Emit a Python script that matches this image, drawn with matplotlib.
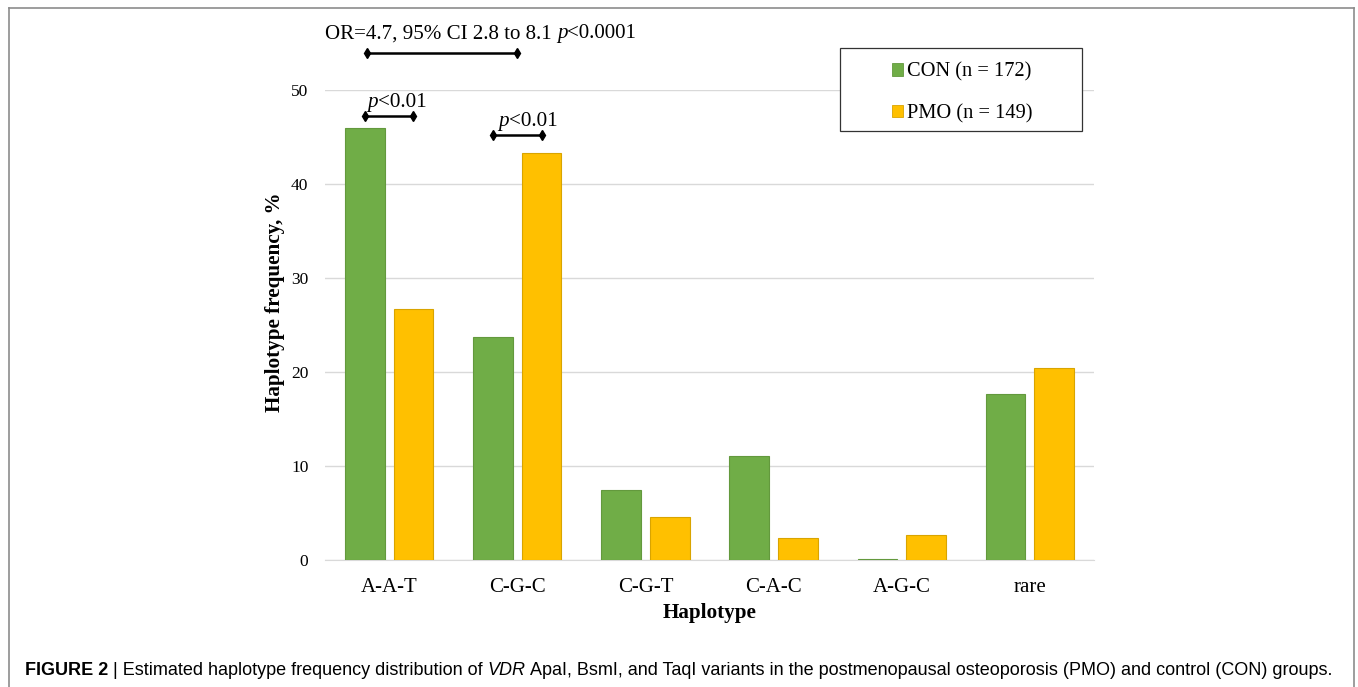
import numpy as np
import matplotlib
matplotlib.use("Agg")
import matplotlib.pyplot as plt
from matplotlib.patches import Rectangle, Patch
from matplotlib.lines import Line2D

# data
haplotypes = ["A-A-T", "C-G-C", "C-G-T", "C-A-C", "A-G-C", "rare"]
con_freq = [46.0, 23.7, 7.45, 11.1, 0.1, 17.7]
pmo_freq = [26.7, 43.3, 4.6, 2.3, 2.65, 20.4]
con_label = "CON (n = 172)"
pmo_label = "PMO (n = 149)"

CON_COLOR = "#70AD47"
PMO_COLOR = "#FFC000"
SERIF = "Liberation Serif"
SANS = "Liberation Sans"

W, H = 1358, 687


def fx(px):
    return px / W


def fy(py):
    return 1 - py / H


def chain_text(fig, x, y, pieces, transform, size, family):
    # draw text pieces left to right, each one anchored to the previous one
    first, style = pieces[0]
    t = fig.text(x, y, first, transform=transform, ha="left", va="baseline",
                 fontsize=size, family=family, **style)
    prev = t
    for s, style in pieces[1:]:
        prev = fig.axes[0].annotate(s, xy=(1, 0), xycoords=prev, ha="left", va="bottom",
                                    fontsize=size, family=family, annotation_clip=False, **style)
    return t


def main():
    fig = plt.figure(figsize=(W / 100, H / 100), dpi=100)
    ax = fig.add_axes([fx(325), fy(560), fx(1094) - fx(325), fy(90) - fy(560)])

    x = np.arange(len(haplotypes))
    width = 0.31
    off = 0.19
    ax.bar(x - off, con_freq, width, color=CON_COLOR, edgecolor="#63993d", linewidth=0.8, zorder=3)
    ax.bar(x + off, pmo_freq, width, color=PMO_COLOR, edgecolor="#d9a400", linewidth=0.8, zorder=3)

    ax.set_xlim(-0.5, len(haplotypes) - 0.5)
    ax.set_ylim(0, 50)
    ax.set_yticks([0, 10, 20, 30, 40, 50])
    ax.set_xticks(x)
    ax.set_xticklabels(haplotypes, fontsize=15, family=SERIF)
    for lab in ax.get_yticklabels():
        lab.set_family(SERIF)
        lab.set_fontsize(12.5)
    ax.tick_params(axis="both", length=0)
    ax.tick_params(axis="y", pad=12)
    ax.tick_params(axis="x", pad=13)
    ax.grid(axis="y", color="#d9d9d9", linewidth=1, zorder=0)
    for s in ["top", "right", "left"]:
        ax.spines[s].set_visible(False)
    ax.spines["bottom"].set_color("#d9d9d9")

    ax.set_xlabel("Haplotype", fontsize=15.2, family=SERIF, fontweight="bold", labelpad=4)
    ax.set_ylabel("Haplotype frequency, %", fontsize=15.2, family=SERIF, fontweight="bold")
    ax.yaxis.set_label_coords(-0.052, 0.549)

    # significance brackets
    brackets = [
        (x[0] - off, x[0] + off, 47.2),
        (x[1] - off, x[1] + off, 45.2),
        (x[0] - off + 0.02, x[1], 53.9),
    ]
    for x0, x1, yb in brackets:
        ax.plot([x0, x1], [yb, yb], color="black", linewidth=1.8, marker="d",
                markersize=5, clip_on=False, zorder=5)

    ital = {"style": "italic"}
    norm = {}
    chain_text(fig, -0.17, 48.2, [("p", ital), ("<0.01", norm)], ax.transData, 15.2, SERIF)
    chain_text(fig, 0.85, 46.2, [("p", ital), ("<0.01", norm)], ax.transData, 15.2, SERIF)
    chain_text(fig, -0.5, 55.5, [("OR=4.7, 95% CI 2.8 to 8.1 ", norm), ("p", ital), ("<0.0001", norm)],
               ax.transData, 15.1, SERIF)

    # legend box
    fig.add_artist(Rectangle((fx(840), fy(131)), fx(1082) - fx(840), fy(48) - fy(131),
                             transform=fig.transFigure, facecolor="white", edgecolor="#333333",
                             linewidth=0.9, zorder=4))
    handles = [Patch(facecolor=CON_COLOR, edgecolor="#63993d", linewidth=0.6),
               Patch(facecolor=PMO_COLOR, edgecolor="#d9a400", linewidth=0.6)]
    leg = fig.legend(handles, [con_label, pmo_label], loc="center",
                     bbox_to_anchor=(fx(962), fy(93)), frameon=False,
                     prop={"family": SERIF, "size": 14.7}, handlelength=0.55, handleheight=0.55,
                     handletextpad=0.2, labelspacing=1.1, borderpad=0)
    leg.set_zorder(5)

    # outer frame
    for xs, ys in [([9, 9], [8, H]), ([9, 1354], [8, 8]), ([1354, 1354], [8, H])]:
        fig.add_artist(Line2D([fx(v) for v in xs], [fy(v) for v in ys], color="#8c8c8c",
                              linewidth=1.2, transform=fig.transFigure))

    # caption
    chain_text(fig, fx(25), fy(675), [("FIGURE 2", {"fontweight": "bold"}),
                                      (" | Estimated haplotype frequency distribution of ", norm),
                                      ("VDR", ital),
                                      (" ApaI, BsmI, and TaqI variants in the postmenopausal osteoporosis (PMO) and control (CON) groups.", norm)],
               fig.transFigure, 13.0, SANS)

    fig.savefig("out.png", dpi=100)


if __name__ == "__main__":
    main()
